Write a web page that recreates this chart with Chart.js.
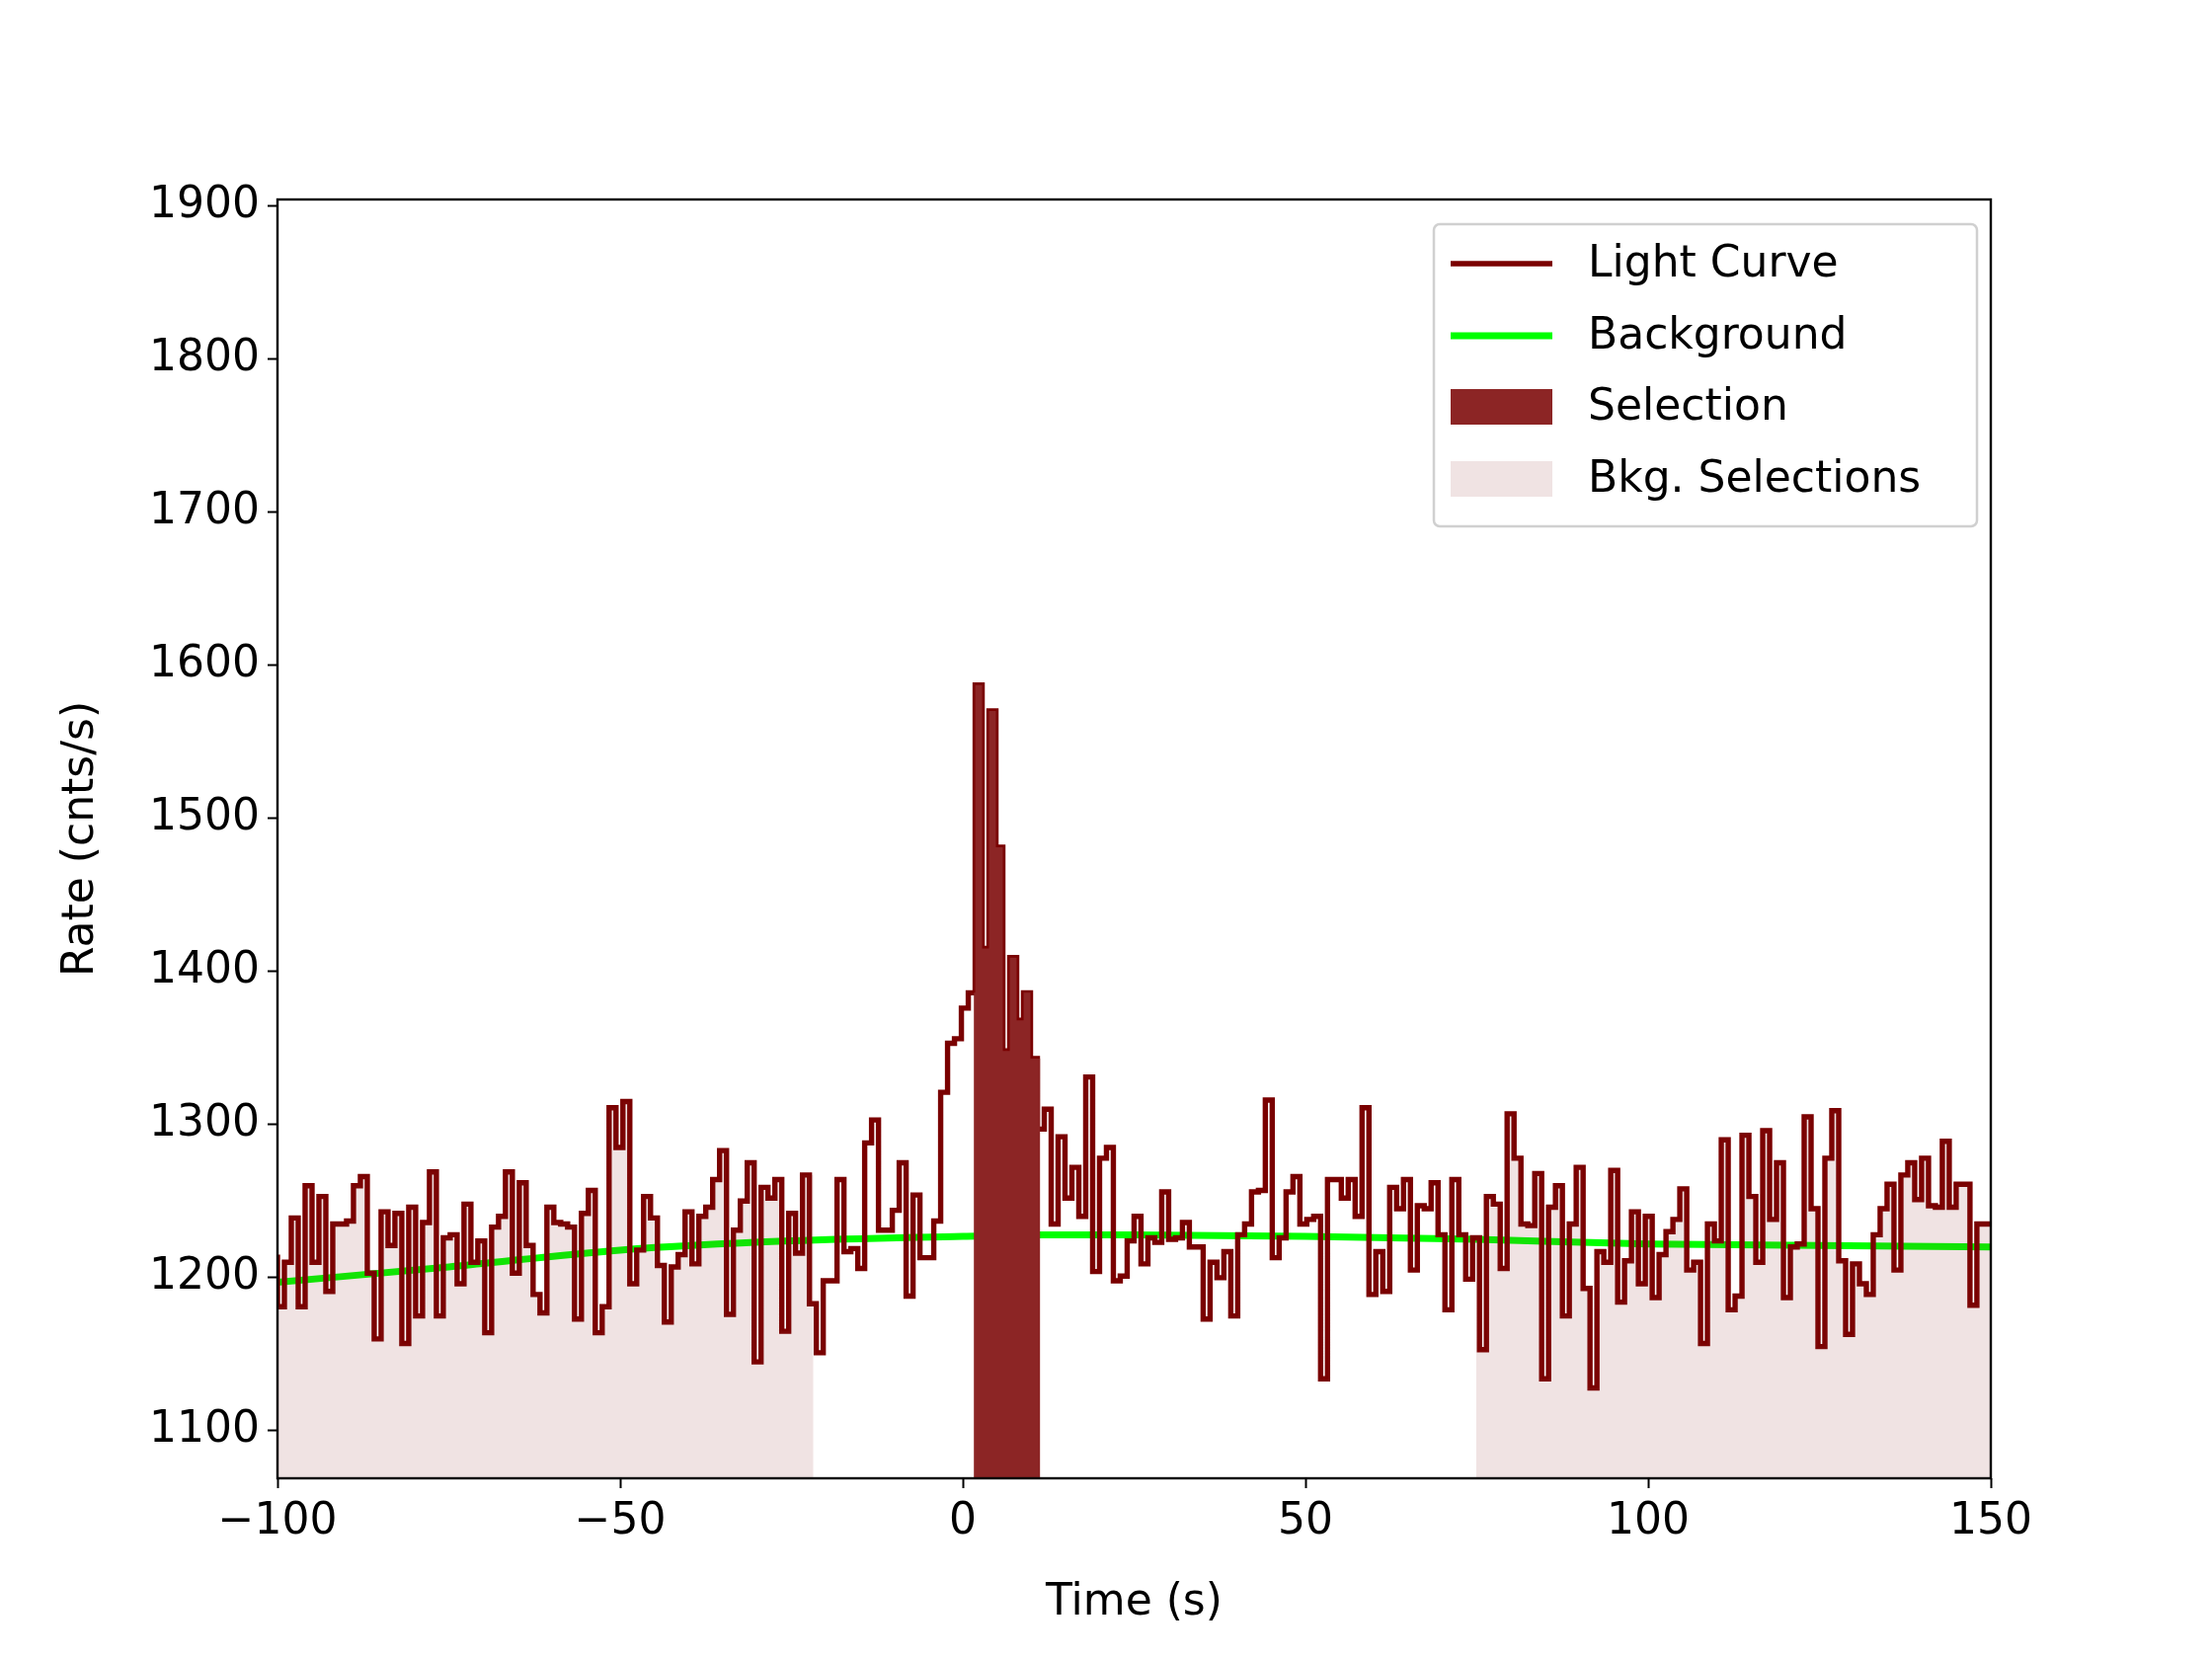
<!DOCTYPE html>
<html>
<head>
<meta charset="utf-8">
<script src="https://cdn.jsdelivr.net/npm/chart.js@4.4.1/dist/chart.umd.min.js"></script>
<style>
  html, body { margin: 0; padding: 0; background: #fff; }
  #wrap { width: 2240px; height: 1680px; }
</style>
</head>
<body>
<div id="wrap"><canvas id="lc" width="2240" height="1680"></canvas></div>
<script>
(function () {
    'use strict';

    // light curve: bins start at tStart, each binWidth seconds long
    var tStart = -100;
    var binWidth = 1.008;
    var rates = [
        1215, 1181, 1210, 1239, 1181, 1260, 1210, 1253, 1191, 1235, 1235, 1237, 1260, 1266, 1203, 1160,
        1243, 1221, 1242, 1157, 1246, 1175, 1236, 1269, 1175, 1226, 1228, 1196, 1248, 1210, 1224, 1164,
        1233, 1240, 1269, 1203, 1262, 1221, 1189, 1177, 1246, 1236, 1235, 1233, 1173, 1242, 1257, 1164,
        1181, 1311, 1285, 1315, 1196, 1218, 1253, 1239, 1208, 1171, 1207, 1215, 1243, 1209, 1240, 1246,
        1264, 1283, 1176, 1231, 1250, 1275, 1145, 1259, 1252, 1264, 1165, 1242, 1216, 1267, 1183, 1151,
        1198, 1198, 1264, 1217, 1219, 1206, 1288, 1303, 1231, 1231, 1244, 1275, 1188, 1254, 1213, 1213,
        1237, 1321, 1353, 1356, 1376, 1386, 1587, 1415, 1570, 1481, 1348, 1409, 1368, 1386, 1343, 1297,
        1310, 1235, 1292, 1252, 1272, 1240, 1331, 1204, 1278, 1285, 1198, 1201, 1224, 1240,
        1209, 1226, 1223, 1256, 1225, 1226, 1236, 1220, 1220, 1173, 1210, 1200, 1217, 1175, 1228, 1235,
        1256, 1257, 1316, 1213, 1226, 1256, 1266, 1235, 1238, 1240, 1134, 1264, 1264, 1252, 1264, 1240,
        1311, 1189, 1217, 1191, 1259, 1245, 1264, 1205, 1247, 1245, 1262, 1228, 1179, 1264, 1228, 1199,
        1226, 1153, 1253, 1248, 1206, 1307, 1278, 1235, 1234, 1268, 1134, 1246, 1260, 1175, 1235, 1272,
        1193, 1128, 1217, 1210, 1270, 1184, 1211, 1243, 1196, 1240, 1187, 1215, 1230, 1238, 1258, 1205,
        1210, 1157, 1235, 1224, 1290, 1179, 1188, 1293, 1253, 1210, 1296, 1238, 1275, 1187, 1220, 1222,
        1305, 1245, 1155, 1278, 1309, 1211, 1163, 1209, 1196, 1189, 1228, 1245, 1261, 1205, 1267, 1275,
        1251, 1278, 1247, 1246, 1289, 1246, 1261, 1261, 1182, 1235
    ];

    // background model
    var bkgTimes = [-100, -75, -50, -25, 0, 10, 25, 50, 75, 100, 125, 150];
    var bkgRates = [1197, 1207, 1218, 1224, 1227, 1228, 1228, 1227, 1225, 1222, 1221, 1220];

    // selection intervals (s)
    var srcSel = [1.6, 11.3];
    var bkgSel = [[-100, -21.8], [74.9, 150]];

    var xTicks = [-100, -50, 0, 50, 100, 150];
    var yTicks = [1100, 1200, 1300, 1400, 1500, 1600, 1700, 1800, 1900];

    var FONT = 'DejaVu Sans';
    var FS = 44;
    var LC_W = 5.4;
    var BG_W = 7;

    function curvePoints() {
        var pts = rates.map(function (v, i) { return { x: tStart + i * binWidth, y: v }; });
        pts.push({ x: tStart + rates.length * binWidth, y: rates[rates.length - 1] });
        return pts;
    }

    function rateAt(t) {
        var i = Math.floor((t - tStart) / binWidth);
        i = Math.max(0, Math.min(rates.length - 1, i));
        return rates[i];
    }

    function segmentPoints(a, b) {
        var pts = [{ x: a, y: rateAt(a) }];
        rates.forEach(function (v, i) {
            var t = tStart + i * binWidth;
            if (t > a && t < b) { pts.push({ x: t, y: v }); }
        });
        pts.push({ x: b, y: rateAt(b - 1e-6) });
        return pts;
    }

    function fillSet(pts, color) {
        return {
            data: pts, stepped: 'after', fill: 'start', backgroundColor: color,
            borderWidth: 0, borderColor: 'rgba(0,0,0,0)', pointRadius: 0
        };
    }

    var datasets = [];
    bkgSel.forEach(function (r) { datasets.push(fillSet(segmentPoints(r[0], r[1]), 'rgba(139,35,35,0.13)')); });
    datasets.push(fillSet(segmentPoints(srcSel[0], srcSel[1]), '#8c2525'));
    datasets.push({
        data: curvePoints(), stepped: 'after', fill: false, borderColor: '#7a0000',
        borderWidth: LC_W, pointRadius: 0
    });
    datasets.push({
        data: bkgTimes.map(function (t, i) { return { x: t, y: bkgRates[i] }; }),
        fill: false, borderColor: '#00ff00', borderWidth: BG_W, pointRadius: 0,
        cubicInterpolationMode: 'monotone'
    });

    function fmt(v) { return String(v).replace('-', '\u2212'); }

    var frameAndLegend = {
        id: 'frameAndLegend',
        afterDraw: function (chart) {
            var c = chart.ctx, a = chart.chartArea;
            c.save();
            c.strokeStyle = '#000';
            c.lineWidth = 2.4;
            c.strokeRect(a.left, a.top, a.right - a.left, a.bottom - a.top);

            // legend box
            var bx = 1452, by = 227, bw = 550, bh = 306;
            c.fillStyle = 'rgba(255,255,255,0.85)';
            c.strokeStyle = '#d0d0d0';
            c.lineWidth = 2.5;
            c.beginPath();
            if (c.roundRect) { c.roundRect(bx, by, bw, bh, 6); } else { c.rect(bx, by, bw, bh); }
            c.fill(); c.stroke();

            var rows = [
                { label: 'Light Curve', kind: 'line', color: '#7a0000', w: LC_W },
                { label: 'Background', kind: 'line', color: '#00ff00', w: BG_W },
                { label: 'Selection', kind: 'box', color: '#8c2525' },
                { label: 'Bkg. Selections', kind: 'box', color: 'rgba(139,35,35,0.13)' }
            ];
            var ys = [267, 340, 412, 485];
            c.font = FS + 'px "' + FONT + '"';
            c.textBaseline = 'middle';
            rows.forEach(function (r, i) {
                var y = ys[i];
                if (r.kind === 'line') {
                    c.strokeStyle = r.color; c.lineWidth = r.w;
                    c.beginPath(); c.moveTo(1469, y); c.lineTo(1572, y); c.stroke();
                } else {
                    c.fillStyle = r.color;
                    c.fillRect(1469, y - 18, 103, 36);
                }
                c.fillStyle = '#000';
                c.fillText(r.label, 1608, y + 2);
            });
            c.restore();
        }
    };

    new Chart(document.getElementById('lc'), {
        type: 'line',
        data: { datasets: datasets },
        plugins: [frameAndLegend],
        options: {
            responsive: false,
            animation: false,
            devicePixelRatio: 1,
            layout: { padding: { left: 52, top: 202, right: 224, bottom: 26 } },
            plugins: { legend: { display: false }, tooltip: { enabled: false } },
            scales: {
                x: {
                    type: 'linear', min: -100, max: 150,
                    afterFit: function (s) { s.height = 157; },
                    afterBuildTicks: function (s) { s.ticks = xTicks.map(function (v) { return { value: v }; }); },
                    grid: { drawOnChartArea: false, tickLength: 10, tickColor: '#000', tickWidth: 2 },
                    border: { display: false },
                    ticks: { color: '#000', font: { family: FONT, size: FS }, padding: 8, maxRotation: 0, callback: fmt },
                    title: { display: true, text: 'Time (s)', color: '#000', font: { family: FONT, size: FS }, padding: { top: 0 } }
                },
                y: {
                    type: 'linear', min: 1069, max: 1904,
                    afterFit: function (s) { s.width = 281 - 52; },
                    afterBuildTicks: function (s) { s.ticks = yTicks.map(function (v) { return { value: v }; }); },
                    grid: { drawOnChartArea: false, tickLength: 10, tickColor: '#000', tickWidth: 2 },
                    border: { display: false },
                    ticks: { color: '#000', font: { family: FONT, size: FS }, padding: 8, callback: fmt },
                    title: { display: true, text: 'Rate (cnts/s)', color: '#000', font: { family: FONT, size: FS }, padding: { bottom: 10 } }
                }
            }
        }
    });
})();
</script>
</body>
</html>
